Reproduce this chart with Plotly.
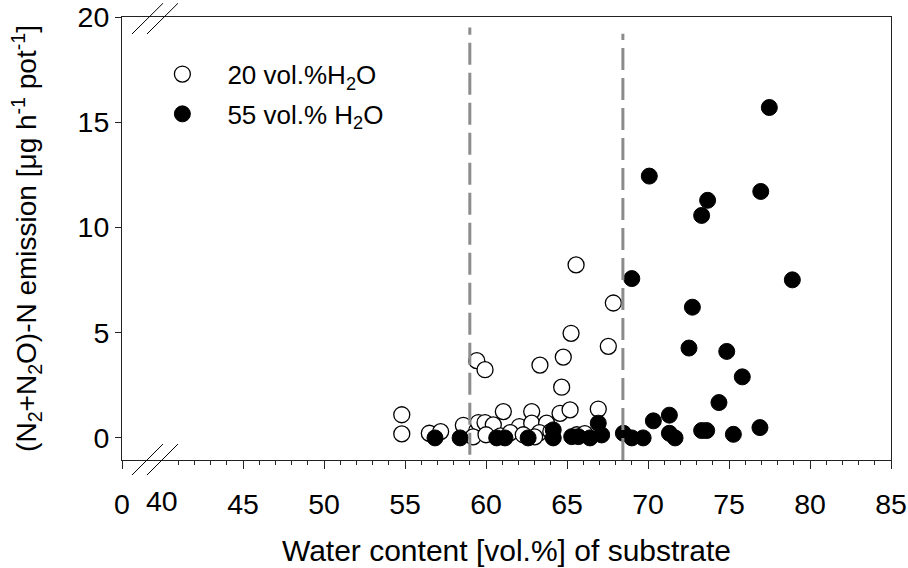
import plotly.graph_objects as go

# ---- data ----
open_x = [54.8, 54.8, 56.5, 57.2, 58.6, 59.43, 59.53, 59.94, 60.45, 61.07, 62.06, 62.82, 62.82,
          63.74, 64.57, 65.19, 66.93, 64.67, 65.56, 67.86, 65.25, 67.55, 64.77, 63.33, 59.43,
          59.94, 59.2, 60.0, 60.9, 61.5, 62.3, 63.3, 64.0, 65.6, 66.1, 63.0]
open_y = [1.1, 0.19, 0.22, 0.3, 0.6, 0.35, 0.73, 0.73, 0.62, 1.25, 0.54, 1.25, 0.7,
          0.7, 1.17, 1.33, 1.37, 2.41, 8.22, 6.41, 4.97, 4.35, 3.84, 3.46, 3.67,
          3.24, 0.05, 0.15, 0.1, 0.25, 0.15, 0.25, 0.3, 0.15, 0.2, 0.05]

filled_x = [56.85, 58.4, 60.66, 61.17, 62.6, 64.15, 64.15, 65.29, 65.7, 66.42, 66.93, 67.14,
            68.48, 69.0, 69.7, 70.33, 71.32, 71.32, 71.67, 73.31, 73.62, 75.27, 76.91,
            74.38, 75.82, 72.53, 74.86, 72.74, 69.0, 78.91, 73.31, 73.68, 76.96, 70.08, 77.49]
filled_y = [0.0, 0.0, 0.0, 0.0, 0.0, 0.38, 0.0, 0.06, 0.06, 0.0, 0.7, 0.14,
            0.22, 0.0, 0.0, 0.81, 1.08, 0.22, 0.0, 0.35, 0.35, 0.17, 0.49,
            1.68, 2.9, 4.27, 4.11, 6.21, 7.57, 7.51, 10.57, 11.29, 11.71, 12.44, 15.7]

series_names = ["20 vol.%H<sub>2</sub>O", "55 vol.% H<sub>2</sub>O"]

threshold_x = [59.0, 68.45]

x_tick_vals = [37.53, 45, 50, 55, 60, 65, 70, 75, 80, 85]
x_tick_text = ["0", "45", "50", "55", "60", "65", "70", "75", "80", "85"]
x_minor_vals = [v for v in range(41, 85) if v % 5 != 0]
x_break_label = ("40", 40)
y_tick_vals = [0, 5, 10, 15, 20]

x_range = [37.53, 85]
y_range = [-1.05, 20]

FONT = "Liberation Sans, Arial, sans-serif"
AX = "#222222"
TICK_SIZE = 28.5

fig = go.Figure()
fig.add_trace(go.Scatter(
    x=open_x, y=open_y, mode="markers", name=series_names[0],
    marker=dict(symbol="circle", size=16, color="white", line=dict(color="black", width=1.3)),
    legendgroup="a"))
fig.add_trace(go.Scatter(
    x=filled_x, y=filled_y, mode="markers", name=series_names[1],
    marker=dict(symbol="circle", size=16, color="black", line=dict(color="black", width=1)),
    legendgroup="b"))

shapes = []
for i, xv in enumerate(threshold_x):
    shapes.append(dict(type="line", xref="x", yref="y", x0=xv, x1=xv,
                       y0=(-0.8 if i == 0 else -1.05), y1=(19.5 if i == 0 else 19.2),
                       line=dict(color="#8c8c8c", width=3, dash="22px,8px")))
# axis-break marks (paper coordinates)
for (x0, x1) in [(0.013, 0.0533), (0.0325, 0.0728)]:
    shapes.append(dict(type="line", xref="paper", yref="paper", x0=x0, x1=x1,
                       y0=-0.034, y1=0.036, line=dict(color="black", width=1)))
    shapes.append(dict(type="line", xref="paper", yref="paper", x0=x0, x1=x1,
                       y0=0.9616, y1=1.031, line=dict(color="black", width=1)))

fig.update_layout(
    width=908, height=568,
    margin=dict(l=122, r=17, t=17, b=108, autoexpand=False),
    paper_bgcolor="white", plot_bgcolor="white",
    font=dict(family=FONT, size=26, color="black"),
    shapes=shapes,
    showlegend=True,
    legend=dict(x=0.02, y=0.924, xanchor="left", yanchor="top",
                bgcolor="rgba(0,0,0,0)", font=dict(size=26, family=FONT),
                itemwidth=80, tracegroupgap=3),
    annotations=[dict(x=x_break_label[1], y=0, xref="x", yref="paper", text=x_break_label[0],
                      showarrow=False, yanchor="top", yshift=-23,
                      font=dict(size=TICK_SIZE, family=FONT))],
)
fig.update_xaxes(
    range=x_range, showline=True, linecolor=AX, linewidth=1, mirror=True,
    automargin=False,
    tickmode="array", tickvals=x_tick_vals, ticktext=x_tick_text,
    ticks="outside", ticklen=8, tickcolor=AX, tickwidth=1, ticklabelstandoff=11,
    minor=dict(tickmode="array", tickvals=x_minor_vals, ticks="outside", ticklen=4,
               tickcolor=AX, tickwidth=1, showgrid=False),
    showgrid=False, zeroline=False,
    tickfont=dict(size=TICK_SIZE),
    title=dict(text="Water content [vol.%] of substrate", font=dict(size=30), standoff=20),
)
fig.update_yaxes(
    range=y_range, showline=True, linecolor=AX, linewidth=1, mirror=True,
    automargin=False,
    tickmode="array", tickvals=y_tick_vals,
    ticks="outside", ticklen=6, tickcolor=AX, tickwidth=1,
    showgrid=False, zeroline=False,
    tickfont=dict(size=TICK_SIZE),
    title=dict(text="(N<sub>2</sub>+N<sub>2</sub>O)-N emission [μg h<sup>-1</sup> pot<sup>-1</sup>]",
               font=dict(size=28), standoff=32),
)

fig.write_html("out.html")
